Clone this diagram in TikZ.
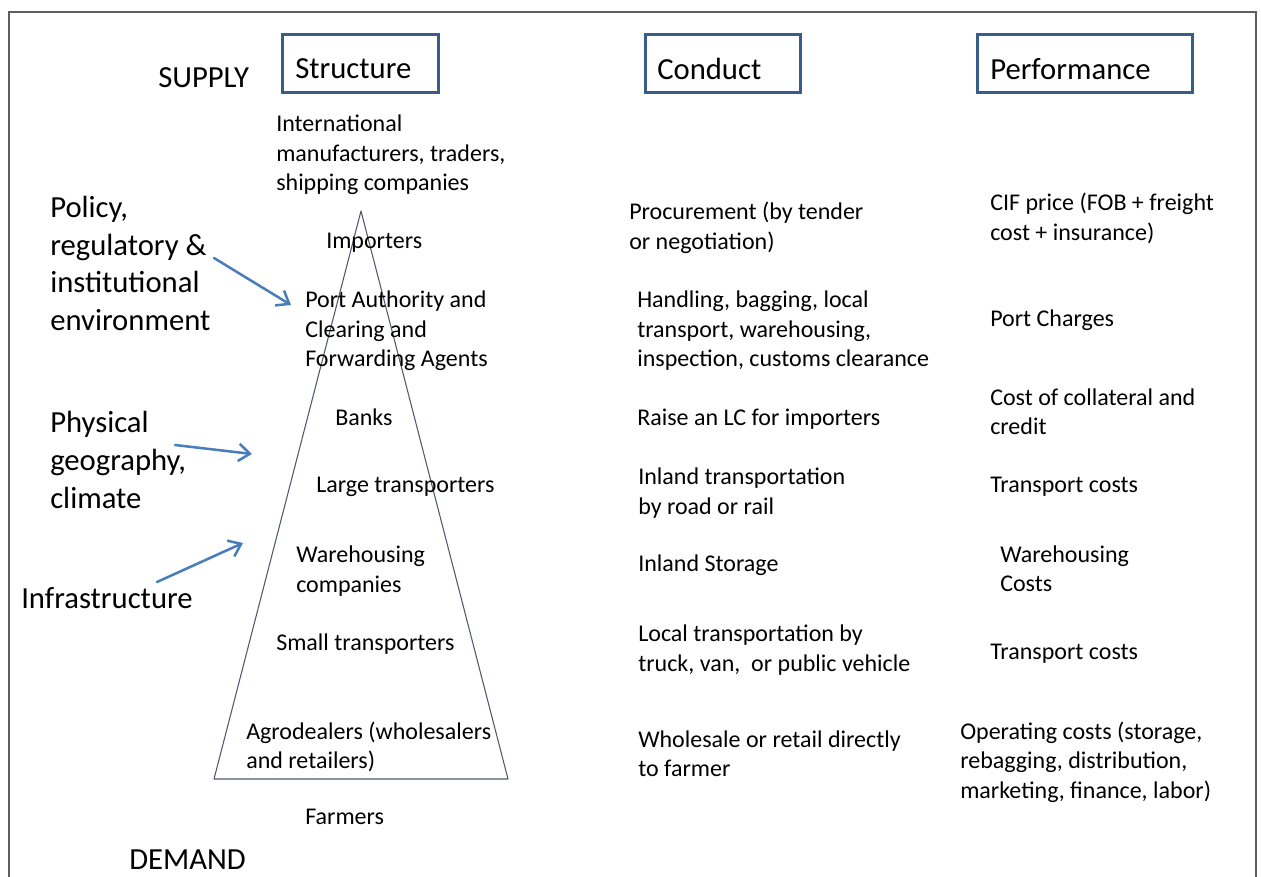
\documentclass[tikz,border=0pt]{standalone}
\usepackage{fontspec}
\setmainfont{Carlito}
\usetikzlibrary{arrows.meta}
\definecolor{boxblue}{RGB}{56,93,138}
\definecolor{arrowblue}{RGB}{74,126,187}
\definecolor{framegray}{RGB}{95,95,95}
\definecolor{pyrline}{RGB}{80,90,110}
\tikzset{
  big/.style={font=\fontsize{23}{28.3}\selectfont, inner sep=0pt, align=left, anchor=west},
  small/.style={font=\fontsize{18}{22.1}\selectfont, inner sep=0pt, align=left, anchor=west},
  hdrbox/.style={draw=boxblue, line width=2.25pt, inner sep=0pt, minimum height=43.5pt},
  infl/.style={draw=arrowblue, line width=1.9pt, line cap=round, -{Straight Barb[length=8.5pt,width=13pt,line width=1.9pt]}},
  frameline/.style={draw=framegray, line width=1.1pt},
  pyramid/.style={draw=pyrline, line width=0.8pt, line join=round}
}
\begin{document}
\begin{tikzpicture}[x=0.75pt,y=-0.75pt]
\useasboundingbox (0,0) rectangle (1261,877);
\fill[white] (0,0) rectangle (1261,877);
\draw[frameline] (9,877) -- (9,12) -- (1256,12) -- (1256,877);

% header boxes
\node[hdrbox, minimum width=117pt] (structure) at (360.5,63.5) {};
\node[hdrbox, minimum width=116.25pt] (conduct) at (723,63.5) {};
\node[hdrbox, minimum width=161.25pt] (performance) at (1085,63.5) {};
\node[big] (structure-t) at (295,69) {Structure};
\node[big] (conduct-t) at (657,69) {Conduct};
\node[big] (performance-t) at (990,69) {Performance};

\node[big] (supply) at (158,78) {SUPPLY};
\node[big] (demand) at (129,860) {DEMAND};

% pyramid
\draw[pyramid] (361,211) -- (214,779) -- (508,779) -- cycle;

% structure column
\node[small] (intl) at (276,155) {International\\manufacturers, traders,\\shipping companies};
\node[small] (importers) at (326,243) {Importers};
\node[small] (port) at (305,331) {Port Authority and\\Clearing and\\Forwarding Agents};
\node[small] (banks) at (335,417) {Banks};
\node[small] (large) at (316,487) {Large transporters};
\node[small] (warehousing) at (296,571) {Warehousing\\companies};
\node[small] (smallt) at (276,644) {Small transporters};
\node[small] (agro) at (246,747) {Agrodealers (wholesalers\\and retailers)};
\node[small] (farmers) at (305,817) {Farmers};

% conduct column
\node[small] (c1) at (629,228) {Procurement (by tender\\or negotiation)};
\node[small] (c2) at (637,331) {Handling, bagging, local\\transport, warehousing,\\inspection, customs clearance};
\node[small] (c3) at (637,419) {Raise an LC for importers};
\node[small] (c4) at (638,493) {Inland transportation\\by road or rail};
\node[small] (c5) at (638,565) {Inland Storage};
\node[small] (c6) at (638,650) {Local transportation by\\truck, van, \ or public vehicle};
\node[small] (c7) at (638,754) {Wholesale or retail directly\\to farmer};

% performance column
\node[small] (p1) at (990,218.5) {CIF price (FOB + freight\\cost + insurance)};
\node[small] (p2) at (990,320) {Port Charges};
\node[small] (p3) at (990,412) {Cost of collateral and\\credit};
\node[small] (p4) at (990,487) {Transport costs};
\node[small] (p5) at (1000,569) {Warehousing\\Costs};
\node[small] (p6) at (990,654) {Transport costs};
\node[small] (p7) at (960,762) {Operating costs (storage,\\rebagging, distribution,\\marketing, finance, labor)};

% influences
\node[big] (policy) at (50,263.5) {Policy,\\regulatory \&\\institutional\\environment};
\node[big] (physical) at (50,460) {Physical\\geography,\\climate};
\node[big] (infra) at (21,598) {Infrastructure};

\coordinate (a1s) at (214,258);
\coordinate (a1e) at (291,305);
\coordinate (a2s) at (175,445);
\coordinate (a2e) at (252,454);
\coordinate (a3s) at (157,582);
\coordinate (a3e) at (243,543);
\draw[infl] (a1s) -- (a1e);
\draw[infl] (a2s) -- (a2e);
\draw[infl] (a3s) -- (a3e);
\end{tikzpicture}
\end{document}
